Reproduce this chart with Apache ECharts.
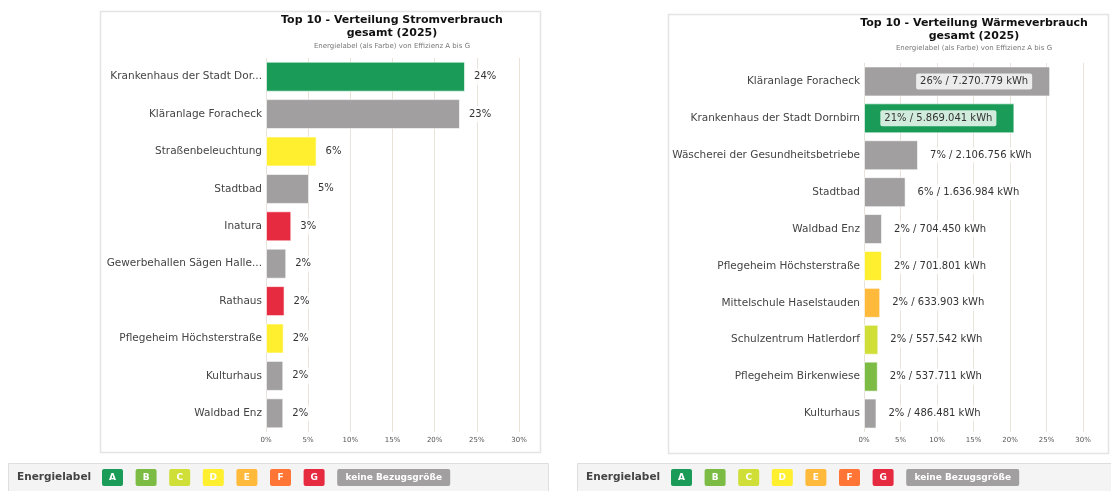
<!DOCTYPE html>
<html><head><meta charset="utf-8">
<script src="https://cdn.jsdelivr.net/npm/echarts@6/dist/echarts.min.js"></script>
<style>html,body{margin:0;padding:0;background:#fff}#c{width:1111px;height:491px}</style>
</head><body><div id="c"></div>
<script>
// ---------- data ----------
const stromTitle = 'Top 10 - Verteilung Stromverbrauch\ngesamt (2025)';
const waermeTitle = 'Top 10 - Verteilung Wärmeverbrauch\ngesamt (2025)';
const subTitle = 'Energielabel (als Farbe) von Effizienz A bis G';

const stromCategories = ['Krankenhaus der Stadt Dor...', 'Kläranlage Foracheck', 'Straßenbeleuchtung', 'Stadtbad', 'Inatura', 'Gewerbehallen Sägen Halle...', 'Rathaus', 'Pflegeheim Höchsterstraße', 'Kulturhaus', 'Waldbad Enz'];
const stromPercent = [23.6, 23.0, 6.0, 5.1, 3.0, 2.4, 2.2, 2.1, 2.05, 2.05];
const stromLabel = ['A', 'X', 'D', 'X', 'G', 'X', 'G', 'D', 'X', 'X'];

const waermeCategories = ['Kläranlage Foracheck', 'Krankenhaus der Stadt Dornbirn', 'Wäscherei der Gesundheitsbetriebe', 'Stadtbad', 'Waldbad Enz', 'Pflegeheim Höchsterstraße', 'Mittelschule Haselstauden', 'Schulzentrum Hatlerdorf', 'Pflegeheim Birkenwiese', 'Kulturhaus'];
const waermePercent = [25.5, 20.6, 7.4, 5.7, 2.47, 2.46, 2.22, 1.96, 1.89, 1.71];
const waermeKwh = [7270779, 5869041, 2106756, 1636984, 704450, 701801, 633903, 557542, 537711, 486481];
const waermeLabel = ['X', 'A', 'X', 'X', 'X', 'D', 'E', 'C', 'B', 'X'];

const axisMin = 0, axisMax = 30, axisStep = 5;
const legendTitle = 'Energielabel';
const legendKeys = ['A', 'B', 'C', 'D', 'E', 'F', 'G'];
const legendNone = 'keine Bezugsgröße';

// ---------- styles ----------
const labelColors = { A: '#1a9c58', B: '#7cbc45', C: '#d0de38', D: '#ffef2e', E: '#ffb93b', F: '#ff7535', G: '#e62a40', X: '#a19f9f' };
const FONT = 'DejaVu Sans';

function fmtDe(n) { return String(n).replace(/\B(?=(\d{3})+(?!\d))/g, '.'); }

function mkX(gi) {
  return {
    type: 'value', gridIndex: gi, min: axisMin, max: axisMax, interval: axisStep,
    axisLine: { show: false }, axisTick: { show: false },
    axisLabel: { formatter: '{value}%', fontSize: 7, color: '#555', fontFamily: FONT, margin: 5 },
    splitLine: { show: true, lineStyle: { color: '#e8e2d9', width: 1 } }
  };
}
function mkY(gi, cats) {
  return {
    type: 'category', gridIndex: gi, data: cats, inverse: true,
    axisLine: { show: false }, axisTick: { show: false },
    axisLabel: { fontSize: 10.5, color: '#444', fontFamily: FONT, margin: 4 }
  };
}
const lblBase = { show: true, fontSize: 10, color: '#333', fontFamily: FONT, backgroundColor: 'rgba(255,255,255,0.8)', padding: [3, 4], borderRadius: 2 };

const stromData = stromPercent.map((v, i) => ({ value: v, itemStyle: { color: labelColors[stromLabel[i]] } }));
const waermeData = waermePercent.map((v, i) => ({
  value: v, kwh: waermeKwh[i],
  itemStyle: { color: labelColors[waermeLabel[i]] },
  label: v > 15 ? { position: 'insideRight', distance: 18 } : { position: 'right', distance: 8 }
}));

// ---------- graphics (panels + legends) ----------
const graphics = [];
graphics.push({ type: 'rect', z: -10, shape: { x: 100.5, y: 11.5, width: 440, height: 441 }, style: { fill: '#fff', stroke: '#e4e4e4', lineWidth: 1.5 } });
graphics.push({ type: 'rect', z: -10, shape: { x: 668.5, y: 14.5, width: 440, height: 439 }, style: { fill: '#fff', stroke: '#e4e4e4', lineWidth: 1.5 } });
function legendAt(x0, w) {
  graphics.push({ type: 'rect', z: -10, shape: { x: x0 + 0.5, y: 463.5, width: w, height: 30 }, style: { fill: '#f4f4f4', stroke: '#dedede', lineWidth: 1 } });
  graphics.push({ type: 'text', x: x0 + 9, y: 477.5, style: { text: legendTitle, font: 'bold 10.5px "DejaVu Sans"', fill: '#444', textVerticalAlign: 'middle' } });
  legendKeys.forEach((k, i) => {
    const bx = x0 + 94 + i * 33.6;
    graphics.push({ type: 'rect', shape: { x: bx, y: 469, width: 21, height: 17, r: 2 }, style: { fill: labelColors[k] } });
    graphics.push({ type: 'text', x: bx + 10.5, y: 477.5, style: { text: k, font: 'bold 9px "DejaVu Sans"', fill: '#fff', textAlign: 'center', textVerticalAlign: 'middle' } });
  });
  const nx = x0 + 94 + 7 * 33.6;
  graphics.push({ type: 'rect', shape: { x: nx, y: 469, width: 113, height: 17, r: 2 }, style: { fill: labelColors.X } });
  graphics.push({ type: 'text', x: nx + 56.5, y: 477.5, style: { text: legendNone, font: 'bold 9px "DejaVu Sans"', fill: '#fff', textAlign: 'center', textVerticalAlign: 'middle' } });
}
legendAt(8, 540);
legendAt(577, 540);

const titleStyle = { fontSize: 11, fontWeight: 'bold', color: '#111', fontFamily: FONT, lineHeight: 13 };
const subStyle = { fontSize: 7, color: '#777', fontFamily: FONT };

const chart = echarts.init(document.getElementById('c'), null, { renderer: 'canvas' });
chart.setOption({
  animation: false,
  backgroundColor: '#fff',
  title: [
    { text: stromTitle, subtext: subTitle, left: 392, top: 13.5, textAlign: 'center', textStyle: titleStyle, subtextStyle: subStyle, itemGap: 3, padding: 0 },
    { text: waermeTitle, subtext: subTitle, left: 974, top: 17, textAlign: 'center', textStyle: titleStyle, subtextStyle: subStyle, itemGap: 2, padding: 0 }
  ],
  grid: [
    { left: 266, top: 58, width: 253, height: 374 },
    { left: 864, top: 63, width: 219, height: 369 }
  ],
  xAxis: [mkX(0), mkX(1)],
  yAxis: [mkY(0, stromCategories), mkY(1, waermeCategories)],
  graphic: graphics,
  series: [
    {
      type: 'bar', xAxisIndex: 0, yAxisIndex: 0, data: stromData, barWidth: 30,
      itemStyle: { borderColor: 'rgba(255,255,255,0.6)', borderWidth: 1 },
      label: Object.assign({}, lblBase, { position: 'right', distance: 5, formatter: p => Math.round(p.value) + '%' })
    },
    {
      type: 'bar', xAxisIndex: 1, yAxisIndex: 1, data: waermeData, barWidth: 30,
      itemStyle: { borderColor: 'rgba(255,255,255,0.6)', borderWidth: 1 },
      label: Object.assign({}, lblBase, { formatter: p => Math.round(p.value) + '% / ' + fmtDe(p.data.kwh) + ' kWh' })
    }
  ]
});
</script></body></html>
